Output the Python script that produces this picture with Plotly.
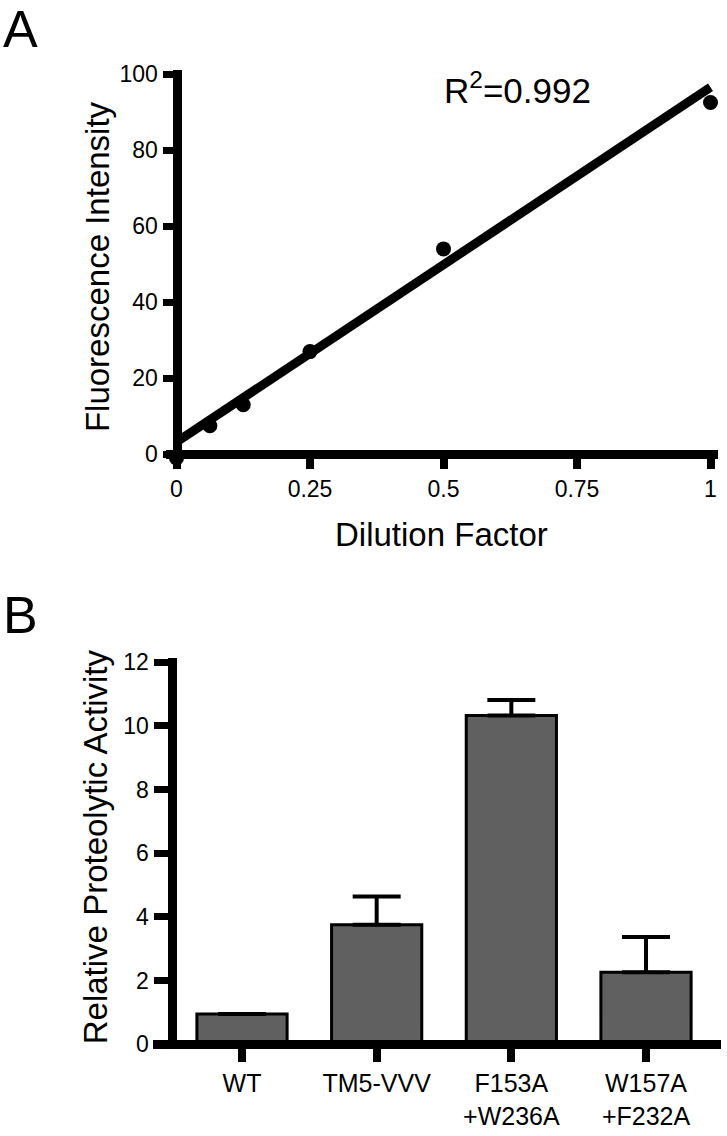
import plotly.graph_objects as go

W, H = 727, 1136

# ---------------- Panel A data ----------------
dilution = [0, 0.0625, 0.125, 0.25, 0.5, 1.0]
fluorescence = [-1.0, 7.5, 13.0, 27.0, 54.0, 92.5]
fit_x = [0, 1]
fit_y = [3.2, 96.5]
a_xtickvals = [0, 0.25, 0.5, 0.75, 1]
a_xticktext = ["0", "0.25", "0.5", "0.75", "1"]
a_ytickvals = [0, 20, 40, 60, 80, 100]
r2_text = "R<sup>2</sup>=0.992"

# ---------------- Panel B data ----------------
categories = ["WT", "TM5-VVV", "F153A<br>+W236A", "W157A<br>+F232A"]
activity = [0.95, 3.75, 10.32, 2.26]
activity_err = [0.0, 0.89, 0.49, 1.11]
b_ytickvals = [0, 2, 4, 6, 8, 10, 12]

TICK_FONT = "Liberation Sans, Arial, Helvetica, sans-serif"
TITLE_FONT = "Liberation Sans, Arial, Helvetica, sans-serif"


def px_x(p):
    return p / W


def px_y(p):
    return 1 - p / H


fig = go.Figure()

fig.add_trace(go.Scatter(
    x=fit_x, y=fit_y, mode="lines",
    line=dict(color="black", width=9),
    xaxis="x", yaxis="y", showlegend=False, cliponaxis=False,
))
fig.add_trace(go.Scatter(
    x=dilution, y=fluorescence, mode="markers",
    marker=dict(color="black", size=15),
    xaxis="x", yaxis="y", showlegend=False, cliponaxis=False,
))

fig.add_trace(go.Bar(
    x=categories, y=activity,
    marker=dict(color="#606060", line=dict(color="black", width=3)),
    width=0.67,
    error_y=dict(type="data", array=activity_err,
                 arrayminus=[0] * len(activity_err), symmetric=False,
                 color="black", thickness=4, width=24),
    xaxis="x2", yaxis="y2", showlegend=False,
))

common = dict(showgrid=False, zeroline=False, showline=True, linecolor="black",
              ticks="outside", tickcolor="black", anchor="free")

fig.update_layout(
    width=W, height=H,
    margin=dict(l=0, r=0, t=0, b=0),
    paper_bgcolor="white", plot_bgcolor="white",
    xaxis=dict(
        **common,
        domain=[px_x(166), px_x(718)],
        range=[(166 - 176.5) / 534, 1 + (718 - 710.5) / 534],
        position=px_y(452),
        linewidth=9, ticklen=10, tickwidth=8,
        tickvals=a_xtickvals, ticktext=a_xticktext,
        tickfont=dict(family=TICK_FONT, size=23, color="black"),
    ),
    yaxis=dict(
        **common,
        domain=[px_y(457), px_y(62)],
        range=[(452 - 457) / 3.86, (452 - 62) / 3.86],
        position=px_x(176.5),
        linewidth=9, ticklen=10, tickwidth=7,
        tickvals=a_ytickvals,
        tickfont=dict(family=TICK_FONT, size=23, color="black"),
    ),
    xaxis2=dict(
        **common,
        domain=[px_x(153), px_x(721)],
        range=[(153 - 242) / 134.67, (721 - 242) / 134.67],
        position=px_y(1051),
        linewidth=9, ticklen=13, tickwidth=8,
        type="category",
        tickfont=dict(family=TICK_FONT, size=25, color="black"),
    ),
    yaxis2=dict(
        **common,
        domain=[px_y(1056), px_y(659)],
        range=[(1051 - 1056) / 32.33, (1051 - 659) / 32.33],
        position=px_x(171.5),
        linewidth=9, ticklen=14, tickwidth=7,
        tickvals=b_ytickvals,
        tickfont=dict(family=TICK_FONT, size=23, color="black"),
    ),
    annotations=[
        dict(text="A", x=px_x(1), y=px_y(20), xref="paper", yref="paper",
             xanchor="left", yanchor="middle", showarrow=False,
             font=dict(family=TITLE_FONT, size=52, color="black")),
        dict(text="B", x=px_x(1), y=px_y(615), xref="paper", yref="paper",
             xanchor="left", yanchor="middle", showarrow=False,
             font=dict(family=TITLE_FONT, size=52, color="black")),
        dict(text=r2_text, x=px_x(517), y=px_y(80), xref="paper", yref="paper",
             xanchor="center", yanchor="middle", showarrow=False,
             font=dict(family=TITLE_FONT, size=35, color="black")),
        dict(text="Fluorescence Intensity", x=px_x(97), y=px_y(262),
             xref="paper", yref="paper", textangle=-90,
             xanchor="center", yanchor="middle", showarrow=False,
             font=dict(family=TITLE_FONT, size=33, color="black")),
        dict(text="Dilution Factor", x=px_x(441), y=px_y(533),
             xref="paper", yref="paper",
             xanchor="center", yanchor="middle", showarrow=False,
             font=dict(family=TITLE_FONT, size=33, color="black")),
        dict(text="Relative Proteolytic Activity", x=px_x(95), y=px_y(851),
             xref="paper", yref="paper", textangle=-90,
             xanchor="center", yanchor="middle", showarrow=False,
             font=dict(family=TITLE_FONT, size=33, color="black")),
    ],
)

fig.write_html(
    "out.html",
    config={"displayModeBar": False},
    post_script="document.body.style.margin='0';document.body.style.padding='0';",
)
